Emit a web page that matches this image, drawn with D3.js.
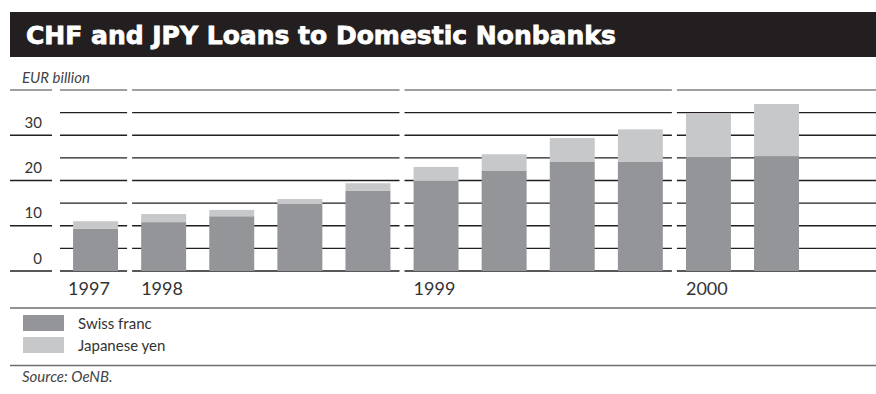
<!DOCTYPE html>
<html>
<head>
<meta charset="utf-8">
<script src="https://cdn.jsdelivr.net/npm/d3@7"></script>
<style>
  html, body { margin: 0; padding: 0; background: #fff; }
  svg { display: block; }
  text { font-family: Lato, "Open Sans", "DejaVu Sans", sans-serif; }
</style>
</head>
<body>
<svg id="chart" width="876" height="394"></svg>
<script>
// Quarterly loans in CHF and JPY to domestic nonbanks, EUR billion
const quarters = ["1997 Q4", "1998 Q1", "1998 Q2", "1998 Q3", "1998 Q4",
                  "1999 Q1", "1999 Q2", "1999 Q3", "1999 Q4", "2000 Q1", "2000 Q2"];
const quarterYears = ["1997", "1998", "1998", "1998", "1998",
                      "1999", "1999", "1999", "1999", "2000", "2000"];
const swissFranc  = [9.3, 10.8, 12.1, 14.8, 17.7, 19.9, 22.1, 24.1, 24.1, 25.2, 25.4];
const japaneseYen = [1.7, 1.8, 1.4, 1.1, 1.7, 3.1, 3.7, 5.3, 7.2, 9.5, 11.5];
const yearLabels = ["1997", "1998", "1999", "2000"];
const yTicks = [0, 10, 20, 30];
const gridValues = [0, 5, 10, 15, 20, 25, 30, 35, 40];
const seriesNames = ["Swiss franc", "Japanese yen"];
const seriesColors = ["#939598", "#c7c8ca"];

const W = 876, H = 394;
const svg = d3.select("#chart");

// Title band
svg.append("rect").attr("x", 10).attr("y", 12).attr("width", W - 10).attr("height", 45)
  .attr("fill", "#231f20");
const title = svg.append("text").attr("x", 26).attr("y", 43.5)
  .attr("fill", "#fff").attr("stroke", "#fff").attr("stroke-width", 0.8)
  .style("font-family", "'DejaVu Sans', sans-serif")
  .attr("font-size", 22).attr("font-weight", 700)
  .text("CHF and JPY Loans to Domestic Nonbanks");
// fit the heading to its set width
const tw = title.node().getComputedTextLength();
title.attr("font-size", 22 * 590 / tw);

svg.append("text").attr("x", 22).attr("y", 83)
  .attr("fill", "#444").attr("font-size", 15).attr("font-style", "italic")
  .text("EUR billion");

// Scales
const y = d3.scaleLinear().domain([0, 40]).range([271, 90]);
const x = d3.scaleBand().domain(quarters)
  .range([61.5, 61.5 + 68.1 * quarters.length])
  .paddingInner(0.34).paddingOuter(0.17);
const bw = x.bandwidth();
const gapHalf = (x.step() - bw) / 2;

// Left axis tick lines and labels
const axisG = svg.append("g");
axisG.selectAll("line").data([0, 10, 20, 30, 40]).join("line")
  .attr("x1", 10).attr("x2", 52)
  .attr("y1", d => y(d)).attr("y2", d => y(d))
  .attr("stroke", d => d === 40 ? "#808080" : "#231f20")
  .attr("stroke-width", 1.3);
axisG.selectAll("text").data(yTicks).join("text")
  .attr("x", 42).attr("y", d => y(d) - 7.5)
  .attr("text-anchor", "end").attr("font-size", 15).attr("fill", "#333")
  .text(d => d);

// Year groups: segmented gridlines
const groups = yearLabels.map((yr, gi) => {
  const qs = quarters.filter((q, i) => quarterYears[i] === yr);
  const first = x(qs[0]), last = x(qs[qs.length - 1]) + bw;
  const x1 = gi === 0 ? 60 : first - gapHalf + 2.5;
  const x2 = gi === yearLabels.length - 1 ? W : last + gapHalf - 2.5;
  return { yr, first, x1, x2 };
});

const gridG = svg.append("g");
groups.forEach(g => {
  gridG.append("g").selectAll("line").data(gridValues).join("line")
    .attr("x1", g.x1).attr("x2", g.x2)
    .attr("y1", d => y(d)).attr("y2", d => y(d))
    .attr("stroke", d => d === 40 ? "#808080" : "#231f20")
    .attr("stroke-width", 1.3);
});

// Stacked bars
const rows = quarters.map((q, i) => ({ q, chf: swissFranc[i], jpy: japaneseYen[i] }));
const stack = d3.stack().keys(["chf", "jpy"])(rows);
svg.append("g").selectAll("g").data(stack).join("g")
  .attr("fill", (d, i) => seriesColors[i])
  .selectAll("rect").data(d => d).join("rect")
  .attr("x", d => x(d.data.q)).attr("width", bw)
  .attr("y", d => y(d[1])).attr("height", d => y(d[0]) - y(d[1]));

// Year labels
svg.append("g").selectAll("text").data(groups).join("text")
  .attr("x", (d, i) => i === 0 ? d.first - 5 : d.first)
  .attr("y", 295).attr("font-size", 18).attr("fill", "#333")
  .text(d => d.yr);

// Rules around the legend
svg.append("line").attr("x1", 10).attr("x2", W).attr("y1", 308).attr("y2", 308)
  .attr("stroke", "#6d6e71").attr("stroke-width", 1.6);
svg.append("line").attr("x1", 10).attr("x2", W).attr("y1", 365.5).attr("y2", 365.5)
  .attr("stroke", "#6d6e71").attr("stroke-width", 1.6);

// Legend
const leg = svg.append("g").selectAll("g").data(seriesNames).join("g")
  .attr("transform", (d, i) => `translate(23,${315 + i * 22})`);
leg.append("rect").attr("width", 41).attr("height", 16)
  .attr("fill", (d, i) => seriesColors[i]);
leg.append("text").attr("x", 55).attr("y", 14).attr("font-size", 15).attr("fill", "#333")
  .text(d => d);

svg.append("text").attr("x", 22).attr("y", 382)
  .attr("fill", "#444").attr("font-size", 15).attr("font-style", "italic")
  .text("Source: OeNB.");
</script>
</body>
</html>
